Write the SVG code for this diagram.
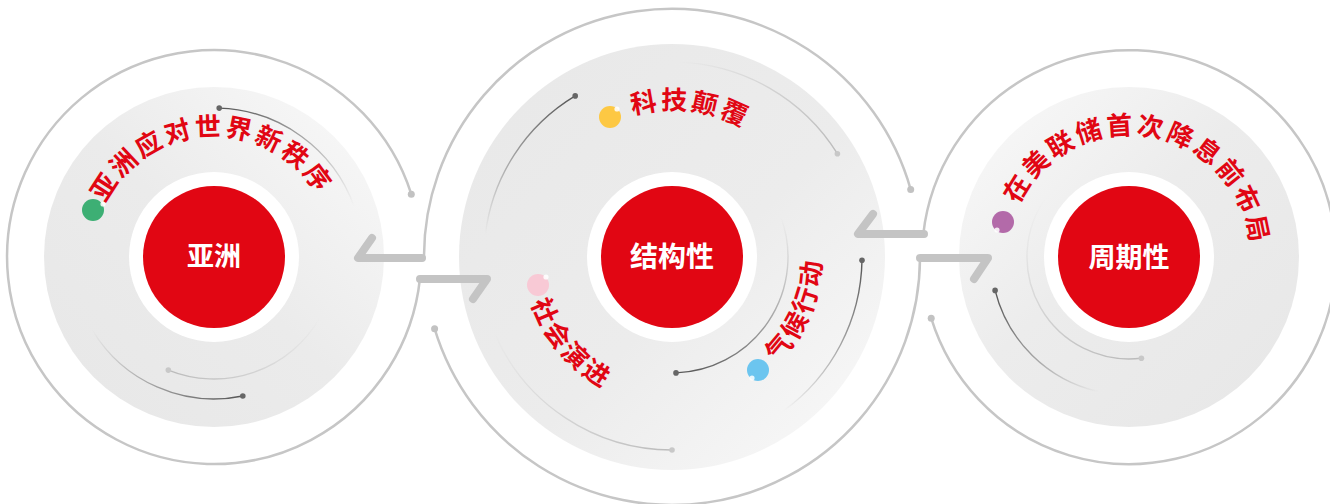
<svg xmlns="http://www.w3.org/2000/svg" width="1330" height="504" viewBox="0 0 1330 504">
<defs>
<style>
.ring{fill:none;stroke:#c6c6c6;stroke-width:2.5}
.rdot{fill:#c2c2c2}
.arrow{fill:none;stroke:#c4c4c4;stroke-width:8;stroke-linecap:round;stroke-linejoin:round}
.core{fill:#e10613}
.halo{fill:#ffffff}
.ctext{font-family:"Noto Sans CJK SC","Noto Sans",sans-serif;font-weight:700;font-size:27px;fill:#ffffff;text-anchor:middle}
.ltext{font-family:"Noto Sans CJK SC","Noto Sans",sans-serif;font-weight:700;font-size:26px;fill:#e10613;letter-spacing:3px}
.arcd{fill:none;stroke-width:1.4}
.ddot{fill:#666}
.ldot{fill:#c8c8c8}
.hl{fill:#ffffff;opacity:0.85}
</style>
<linearGradient id="gL" x1="1" y1="0" x2="0" y2="1"><stop offset="0" stop-color="#fafafa"/><stop offset="0.5" stop-color="#ebebeb"/><stop offset="1" stop-color="#e7e7e7"/></linearGradient>
<linearGradient id="gC" x1="0" y1="0" x2="1" y2="1"><stop offset="0" stop-color="#e8e8e8"/><stop offset="0.55" stop-color="#ececec"/><stop offset="1" stop-color="#fafafa"/></linearGradient>
<linearGradient id="gR" x1="0" y1="0" x2="1" y2="1"><stop offset="0" stop-color="#fafafa"/><stop offset="0.45" stop-color="#ececec"/><stop offset="1" stop-color="#e7e7e7"/></linearGradient>
<linearGradient id="fL1" gradientUnits="userSpaceOnUse" x1="219" y1="108" x2="354" y2="206"><stop offset="0" stop-color="#555"/><stop offset="1" stop-color="#555" stop-opacity="0"/></linearGradient>
<linearGradient id="fL2" gradientUnits="userSpaceOnUse" x1="243" y1="396" x2="92" y2="330"><stop offset="0" stop-color="#555"/><stop offset="1" stop-color="#555" stop-opacity="0"/></linearGradient>
<linearGradient id="fL3" gradientUnits="userSpaceOnUse" x1="168" y1="370" x2="320" y2="318"><stop offset="0" stop-color="#bbb"/><stop offset="1" stop-color="#bbb" stop-opacity="0"/></linearGradient>
<linearGradient id="fC1" gradientUnits="userSpaceOnUse" x1="575" y1="96" x2="485" y2="234"><stop offset="0" stop-color="#555"/><stop offset="1" stop-color="#555" stop-opacity="0"/></linearGradient>
<linearGradient id="fC2" gradientUnits="userSpaceOnUse" x1="837" y1="154" x2="679" y2="62"><stop offset="0" stop-color="#bbb"/><stop offset="1" stop-color="#bbb" stop-opacity="0"/></linearGradient>
<linearGradient id="fC3" gradientUnits="userSpaceOnUse" x1="676" y1="373" x2="781" y2="217"><stop offset="0" stop-color="#555"/><stop offset="1" stop-color="#555" stop-opacity="0"/></linearGradient>
<linearGradient id="fC4" gradientUnits="userSpaceOnUse" x1="862" y1="260" x2="784" y2="411"><stop offset="0" stop-color="#555"/><stop offset="1" stop-color="#555" stop-opacity="0"/></linearGradient>
<linearGradient id="fC5" gradientUnits="userSpaceOnUse" x1="672" y1="450" x2="494" y2="332"><stop offset="0" stop-color="#bbb"/><stop offset="1" stop-color="#bbb" stop-opacity="0"/></linearGradient>
<linearGradient id="fR1" gradientUnits="userSpaceOnUse" x1="995" y1="290" x2="1098" y2="392"><stop offset="0" stop-color="#555"/><stop offset="1" stop-color="#555" stop-opacity="0"/></linearGradient>
<linearGradient id="fR2" gradientUnits="userSpaceOnUse" x1="1141" y1="358" x2="1047" y2="196"><stop offset="0" stop-color="#bbb"/><stop offset="1" stop-color="#bbb" stop-opacity="0"/></linearGradient>
<path id="tpL" d="M 93.3 265.4 A 121 121 0 1 1 335 257"/>
<path id="tpR" d="M 1008.2 240 A 122 122 0 1 1 1248.3 282.4"/>
<path id="tpC1" d="M 525.6 244.2 A 147 147 0 1 1 817.2 280"/>
<path id="tpC2" d="M 576.2 142.9 A 149 149 0 1 0 769.8 369.5"/>
<path id="tpC3" d="M 612.6 393.6 A 149 149 0 1 0 729 119.3"/>
</defs>

<rect width="1330" height="504" fill="#ffffff"/>

<g id="node-asia">
<circle cx="214" cy="257" r="170" fill="url(#gL)"/>
<path class="arcd" stroke="url(#fL1)" d="M 219.2 108.1 A 149 149 0 0 1 354 206"/>
<circle class="ddot" cx="219.2" cy="108.1" r="2.8"/>
<path class="arcd" stroke="url(#fL2)" d="M 242.8 396 A 142 142 0 0 1 92.3 330"/>
<circle class="ddot" cx="242.8" cy="396" r="2.8"/>
<path class="arcd" stroke="url(#fL3)" d="M 168.3 370.1 A 122 122 0 0 0 319.7 318"/>
<circle class="ldot" cx="168.3" cy="370.1" r="2.8"/>
<circle class="halo" cx="214" cy="257" r="85"/>
<circle class="core" cx="214" cy="257" r="71"/>
<text class="ctext" x="214" y="266">亚洲</text>
<circle cx="93" cy="210" r="11" fill="#3daf74"/>
<circle class="hl" cx="103" cy="204" r="2.6"/>
<text class="ltext"><textPath href="#tpL" startOffset="50%" text-anchor="middle">亚洲应对世界新秩序</textPath></text>
</g>

<g id="node-structural">
<circle cx="672" cy="257" r="213" fill="url(#gC)"/>
<path class="arcd" stroke="url(#fC1)" d="M 575.2 95.9 A 188 188 0 0 0 485.4 234.1"/>
<circle class="ddot" cx="575.2" cy="95.9" r="2.8"/>
<path class="arcd" stroke="url(#fC2)" d="M 837.4 153.7 A 195 195 0 0 0 678.8 62.1"/>
<circle class="ldot" cx="837.4" cy="153.7" r="2.8"/>
<path class="arcd" stroke="url(#fC3)" d="M 676 372.9 A 116 116 0 0 0 781 217.3"/>
<circle class="ddot" cx="676" cy="372.9" r="2.8"/>
<path class="arcd" stroke="url(#fC4)" d="M 862 260.3 A 190 190 0 0 1 783.7 410.7"/>
<circle class="ddot" cx="862" cy="260.3" r="2.8"/>
<path class="arcd" stroke="url(#fC5)" d="M 672 450 A 193 193 0 0 1 494.3 332.4"/>
<circle class="ldot" cx="672" cy="450" r="2.8"/>
<circle class="halo" cx="672" cy="257" r="85"/>
<circle class="core" cx="672" cy="257" r="71"/>
<text class="ctext" x="672" y="267" style="font-size:28px">结构性</text>
<circle cx="610" cy="117" r="11" fill="#fdc843"/>
<circle class="hl" cx="617" cy="109" r="2.6"/>
<circle cx="538" cy="285" r="11" fill="#f8c9d5"/>
<circle class="hl" cx="546" cy="277" r="2.6"/>
<circle cx="758" cy="370" r="11" fill="#6cc5ef"/>
<circle class="hl" cx="752" cy="378" r="2.6"/>
<text class="ltext"><textPath href="#tpC1" startOffset="50%" text-anchor="middle">科技颠覆</textPath></text>
<text class="ltext"><textPath href="#tpC2" startOffset="50%" text-anchor="middle">社会演进</textPath></text>
<text class="ltext"><textPath href="#tpC3" startOffset="50%" text-anchor="middle">气候行动</textPath></text>
</g>

<g id="node-cyclical">
<circle cx="1129" cy="257" r="170" fill="url(#gR)"/>
<path class="arcd" stroke="url(#fR1)" d="M 995.1 290.4 A 138 138 0 0 0 1098 391.5"/>
<circle class="ddot" cx="995.1" cy="290.4" r="2.8"/>
<path class="arcd" stroke="url(#fR2)" d="M 1141.4 358.2 A 102 102 0 0 1 1047.5 195.6"/>
<circle class="ldot" cx="1141.4" cy="358.2" r="2.8"/>
<circle class="halo" cx="1129" cy="257" r="85"/>
<circle class="core" cx="1129" cy="257" r="71"/>
<text class="ctext" x="1129" y="267">周期性</text>
<circle cx="1003" cy="222" r="11" fill="#b36aa9"/>
<circle class="hl" cx="997" cy="230" r="2.6"/>
<text class="ltext"><textPath href="#tpR" startOffset="50%" text-anchor="middle">在美联储首次降息前布局</textPath></text>
</g>

<g id="connectors">
<path class="ring" d="M 411.3 194.2 A 207 207 0 1 0 419.9 279"/>
<circle class="rdot" cx="411.3" cy="194.2" r="3.5"/>
<path class="ring" d="M 910.7 189.6 A 248 248 0 0 0 424 259"/>
<circle class="rdot" cx="910.7" cy="189.6" r="3.5"/>
<path class="ring" d="M 434.6 328.7 A 248 248 0 0 0 920 258"/>
<circle class="rdot" cx="434.6" cy="328.7" r="3.5"/>
<path class="ring" d="M 923.3 234 A 207 207 0 1 1 931.2 318.2"/>
<circle class="rdot" cx="931.2" cy="318.2" r="3.5"/>
<polyline class="arrow" points="372,238 358,258 422,258"/>
<polyline class="arrow" points="420,279 487,279 473,299"/>
<polyline class="arrow" points="873,214 858,234 924,234"/>
<polyline class="arrow" points="920,258 988,258 974,279"/>
</g>
</svg>
